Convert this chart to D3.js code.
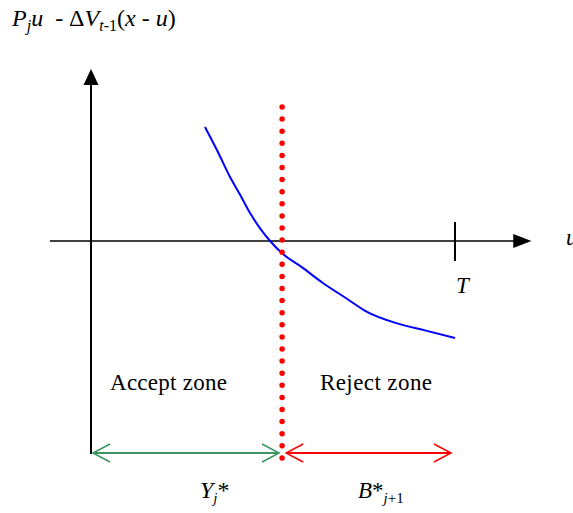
<!DOCTYPE html>
<html>
<head>
<meta charset="utf-8">
<script src="https://cdn.jsdelivr.net/npm/d3@7"></script>
<style>
  body { margin: 0; background: #fff; }
  text { font-family: "Liberation Serif", "Times New Roman", serif; fill: #000; }
</style>
</head>
<body>
<div class="canvas"></div>
<script>
// curve of P_j u - dV_{t-1}(x - u) against u (T = 10)
const uVals = [3.13, 3.5, 3.82, 4.1, 4.37, 4.65, 4.92, 5.24, 5.8, 6.37, 7.0, 7.57, 8.41, 9.2, 10]
const gVals = [5.7, 4.4, 3.2, 2.3, 1.4, 0.62, 0.0, -0.6, -1.32, -2.1, -2.85, -3.53, -4.12, -4.48, -4.85]

const T = 10
const threshold = 5.25   // Y_j* boundary
const zoneLabels = ['Accept zone', 'Reject zone']

const dims = { width: 573, height: 513 }

const x = d3.scaleLinear().domain([0, T]).range([91, 455])
const y = d3.scaleLinear().domain([0, 5]).range([241, 141])

const svg = d3.select('.canvas')
    .append('svg')
    .attr('width', dims.width)
    .attr('height', dims.height)

// axes
svg.append('line')
    .attr('x1', x(-1.13)).attr('x2', x(11.7))
    .attr('y1', y(0)).attr('y2', y(0))
    .attr('stroke', '#000').attr('stroke-width', 1.5)

svg.append('path')
    .attr('d', `M${x(12.1)},${y(0)} L${x(11.6)},${y(0) - 7} L${x(11.6)},${y(0) + 7} Z`)
    .attr('fill', '#000')

svg.append('line')
    .attr('x1', x(0)).attr('x2', x(0))
    .attr('y1', y(-10.65)).attr('y2', y(8.2))
    .attr('stroke', '#000').attr('stroke-width', 2)

svg.append('path')
    .attr('d', `M${x(0)},${y(8.6)} L${x(0) - 7.5},${y(7.8)} L${x(0) + 7.5},${y(7.8)} Z`)
    .attr('fill', '#000')

// T tick
svg.append('line')
    .attr('x1', x(T)).attr('x2', x(T))
    .attr('y1', y(0) - 19).attr('y2', y(0) + 20)
    .attr('stroke', '#000').attr('stroke-width', 2)

svg.append('text')
    .attr('x', x(T) + 1).attr('y', 293)
    .attr('font-size', 23).attr('font-style', 'italic')
    .text('T')

svg.append('text')
    .attr('x', 566).attr('y', 245)
    .attr('font-size', 23).attr('font-style', 'italic')
    .text('u')

// blue curve
const line = d3.line()
    .x(d => x(d[0]))
    .y(d => y(d[1]))
    .curve(d3.curveMonotoneX)

svg.append('path')
    .datum(uVals.map((u, i) => [u, gVals[i]]))
    .attr('d', line)
    .attr('fill', 'none')
    .attr('stroke', '#0000ff')
    .attr('stroke-width', 2)

// red dotted threshold
svg.append('line')
    .attr('x1', x(threshold)).attr('x2', x(threshold))
    .attr('y1', 107).attr('y2', 470)
    .attr('stroke', '#ff0000')
    .attr('stroke-width', 5.5)
    .attr('stroke-linecap', 'round')
    .attr('stroke-dasharray', '0 12.1')

// zone labels
svg.selectAll('.zone')
    .data(zoneLabels)
    .enter()
    .append('text')
    .attr('class', 'zone')
    .attr('x', (d, i) => i === 0 ? 110 : 320)
    .attr('y', 390)
    .attr('font-size', 23)
    .attr('textLength', (d, i) => i === 0 ? 117 : 112)
    .text(d => d)

// double arrows
const arrowY = 453
const doubleArrow = (x1, x2, color) => {
    svg.append('line')
        .attr('x1', x1).attr('x2', x2)
        .attr('y1', arrowY).attr('y2', arrowY)
        .attr('stroke', color).attr('stroke-width', 2)
    svg.append('path')
        .attr('d', `M${x1 + 17},${arrowY - 9} L${x1},${arrowY} L${x1 + 17},${arrowY + 9}`)
        .attr('fill', 'none').attr('stroke', color).attr('stroke-width', 1.5)
    svg.append('path')
        .attr('d', `M${x2 - 17},${arrowY - 9} L${x2},${arrowY} L${x2 - 17},${arrowY + 9}`)
        .attr('fill', 'none').attr('stroke', color).attr('stroke-width', 1.5)
}
doubleArrow(x(0) + 2, x(threshold) - 3, '#3c9460')
doubleArrow(x(threshold) + 4, x(T) - 4, '#ff0000')

// bottom labels
const yl = svg.append('text').attr('x', 200).attr('y', 498).attr('font-size', 24)
yl.append('tspan').attr('font-style', 'italic').text('Y')
yl.append('tspan').attr('font-style', 'italic').attr('font-size', 15).attr('dy', 5).text('j')
yl.append('tspan').attr('dy', -5).text('*')

const bl = svg.append('text').attr('x', 358).attr('y', 498).attr('font-size', 23)
bl.append('tspan').attr('font-style', 'italic').text('B')
bl.append('tspan').text('*')
bl.append('tspan').attr('font-style', 'italic').attr('font-size', 15).attr('dy', 5).text('j')
bl.append('tspan').attr('font-size', 15).text('+1')

// title
const tt = svg.append('text').attr('x', 12).attr('y', 26).attr('font-size', 24)
tt.append('tspan').attr('font-style', 'italic').text('P')
tt.append('tspan').attr('font-style', 'italic').attr('font-size', 16).attr('dy', 5).text('j')
tt.append('tspan').attr('font-style', 'italic').attr('dy', -5).text('u')
tt.append('tspan').text('\u00a0 - \u0394')
tt.append('tspan').attr('font-style', 'italic').text('V')
tt.append('tspan').attr('font-style', 'italic').attr('font-size', 16).attr('dy', 5).text('t')
tt.append('tspan').attr('font-size', 16).text('-1')
tt.append('tspan').attr('dy', -5).text('(')
tt.append('tspan').attr('font-style', 'italic').text('x')
tt.append('tspan').text(' - ')
tt.append('tspan').attr('font-style', 'italic').text('u')
tt.append('tspan').text(')')
</script>
</body>
</html>
